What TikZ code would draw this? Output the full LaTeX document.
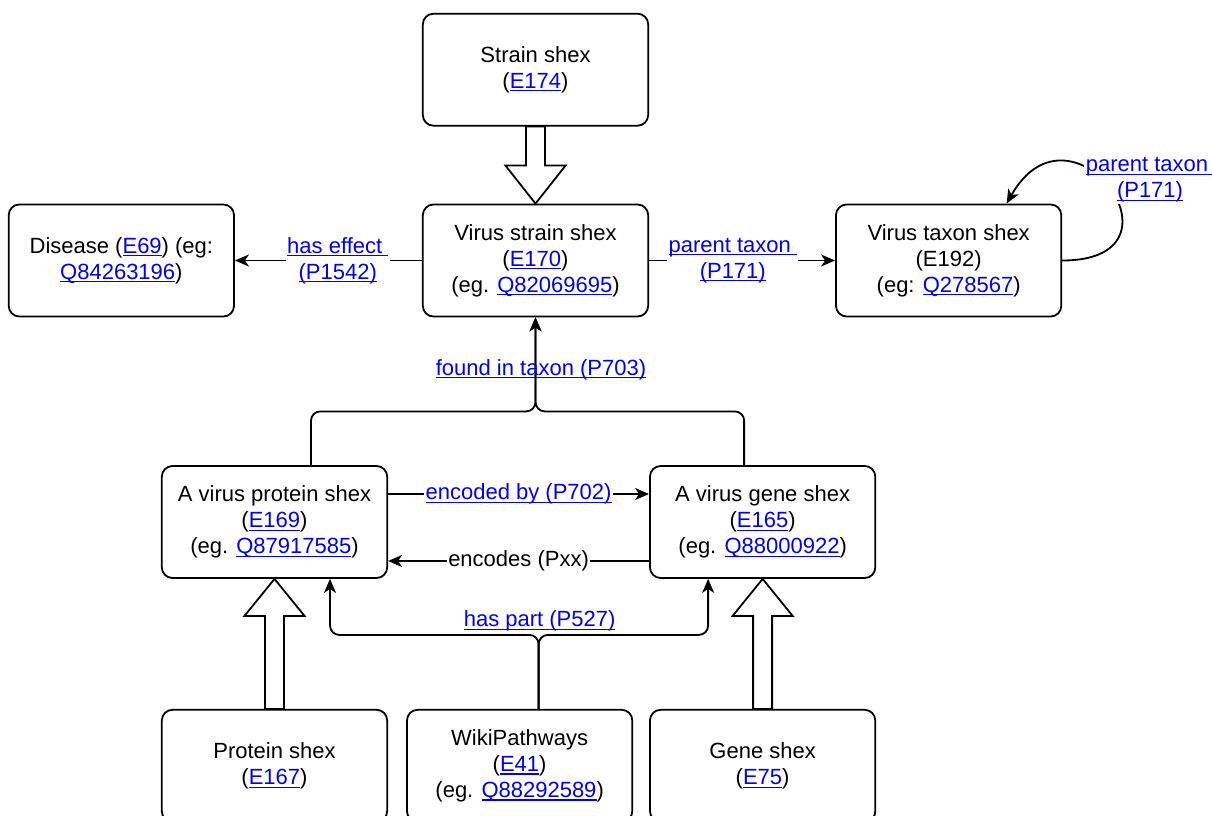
\documentclass[tikz,border=0pt]{standalone}
\usepackage{fontspec}
\setmainfont{Liberation Sans}
\usepackage{tikz}
\usetikzlibrary{calc,positioning,arrows.meta}
\definecolor{linkblue}{RGB}{0,0,230}
\newsavebox{\linkbox}
\newcommand{\wdlink}[1]{\sbox{\linkbox}{\color{linkblue}#1}\textcolor{linkblue}{\rlap{\rule[-2.3pt]{\wd\linkbox}{0.8pt}}\usebox{\linkbox}}}
\tikzset{
shex_box/.style={rectangle, rounded corners=8pt, draw, line width=1.35pt, fill=white, align=center, minimum width=169pt, minimum height=84pt, inner sep=2pt, font=\fontsize{16.5pt}{19.5pt}\selectfont},
edge_line/.style={line width=1.35pt, -{Stealth[length=10.5pt,width=9pt,inset=3pt]}},
edge_label/.style={fill=white, inner sep=1pt, align=center, font=\fontsize{16.5pt}{19.5pt}\selectfont},
plain_label/.style={inner sep=1pt, align=center, font=\fontsize{16.5pt}{19.5pt}\selectfont},
block_arrow/.style={draw, line width=1.35pt, fill=white, line join=miter}
}

\begin{document}
\begin{tikzpicture}[x=0.75pt, y=0.75pt]
    \useasboundingbox (0,0) rectangle (1212,815);
    \node[shex_box] (virus_strain) at (535.5,554.5) {Virus strain shex\\(\wdlink{E170})\\(eg. \wdlink{Q82069695})};
    \node[shex_box] (strain_shex) [above=77 of virus_strain] {Strain shex\\(\wdlink{E174})};
    \node[shex_box] (disease) [left=187 of virus_strain] {Disease (\wdlink{E69}) (eg:\\\wdlink{Q84263196})};
    \node[shex_box] (taxon) [right=186 of virus_strain] {Virus taxon shex\\(E192)\\(eg: \wdlink{Q278567})};
    \node[shex_box] (virus_protein) at (274.5,293) {A virus protein shex\\(\wdlink{E169})\\(eg. \wdlink{Q87917585})};
    \node[shex_box] (virus_gene) [right=261 of virus_protein] {A virus gene shex\\(\wdlink{E165})\\(eg. \wdlink{Q88000922})};
    \node[shex_box] (protein_shex) [below=130 of virus_protein] {Protein shex\\(\wdlink{E167})};
    \node[shex_box] (gene_shex) [below=130 of virus_gene] {Gene shex\\(\wdlink{E75})};
    \node[shex_box] (wiki) [right=18 of protein_shex] {WikiPathways\\(\wdlink{E41})\\(eg. \wdlink{Q88292589})};

    % hollow arrows
    \draw[block_arrow] ($(strain_shex.south)+(-9.5,0)$) -- ($(virus_strain.north)+(-9.5,38)$) -- ++(-20.5,0) -- (virus_strain.north) -- ($(virus_strain.north)+(30,38)$) -- ++(-20.5,0) -- ($(strain_shex.south)+(9.5,0)$) -- cycle;
    \draw[block_arrow] ($(protein_shex.north)+(-9.5,0)$) -- ($(virus_protein.south)+(-9.5,-37)$) -- ++(-20.5,0) -- (virus_protein.south) -- ($(virus_protein.south)+(30,-37)$) -- ++(-20.5,0) -- ($(protein_shex.north)+(9.5,0)$) -- cycle;
    \draw[block_arrow] ($(gene_shex.north)+(-9.5,0)$) -- ($(virus_gene.south)+(-9.5,-37)$) -- ++(-20.5,0) -- (virus_gene.south) -- ($(virus_gene.south)+(30,-37)$) -- ++(-20.5,0) -- ($(gene_shex.north)+(9.5,0)$) -- cycle;

    % top row
    \draw[edge_line] (virus_strain.west) -- (disease.east) node[pos=0.45, edge_label] {\wdlink{has effect~}\\\wdlink{(P1542)}};
    \draw[edge_line] (virus_strain.east) -- (taxon.west) node[pos=0.45, edge_label] {\wdlink{parent taxon~}\\\wdlink{(P171)}};
    \draw[edge_line] (taxon.east) .. controls +(135,0) and +(65,115) .. ($(taxon.north)+(58,0)$);
    \node[edge_label] (loop_label) at (1150,635) {\wdlink{parent taxon~}\\\wdlink{(P171)}};

    % found in taxon
    \coordinate (found_join) at ($(virus_strain.south)+(0,-94)$);
    \draw[edge_line, rounded corners=7pt] ($(virus_protein.north)+(36.5,0)$) |- (found_join) -- (virus_strain.south);
    \draw[edge_line, rounded corners=7pt] ($(virus_gene.north)+(-18.5,0)$) |- (found_join) -- (virus_strain.south);
    \node[plain_label] (found_label) at ($(found_join)+(5.5,42)$) {\wdlink{found in taxon (P703)}};

    % protein and gene
    \draw[edge_line] ($(virus_protein.east)+(0,28)$) -- ($(virus_gene.west)+(0,28)$) node[midway, edge_label] {\wdlink{encoded by (P702)}};
    \draw[edge_line] ($(virus_gene.west)+(0,-39)$) -- ($(virus_protein.east)+(0,-39)$) node[midway, edge_label] {encodes (Pxx)};

    % has part
    \coordinate (part_join) at ($(wiki.north)+(19,74)$);
    \draw[edge_line, rounded corners=7pt] ($(wiki.north)+(19,0)$) -- (part_join) -| ($(virus_protein.south)+(55.5,0)$);
    \draw[edge_line, rounded corners=7pt] ($(wiki.north)+(19,0)$) -- (part_join) -| ($(virus_gene.south)+(-54.5,0)$);
    \node[plain_label] (part_label) at ($(part_join)+(1,14)$) {\wdlink{has part (P527)}};
\end{tikzpicture}
\end{document}
